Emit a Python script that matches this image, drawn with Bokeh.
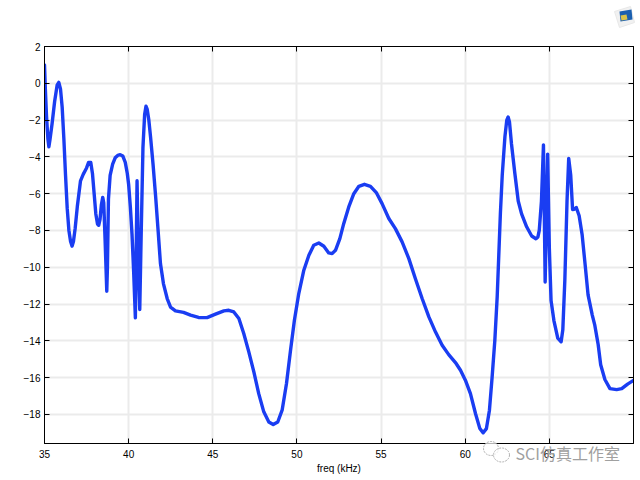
import numpy as np
from bokeh.plotting import figure
from bokeh.embed import file_html
from bokeh.resources import INLINE
from bokeh.core.properties import value
from bokeh.models import Range1d, FixedTicker, LinearAxis, CustomJSTickFormatter

freq = [35.0,35.05,35.12,35.2,35.26,35.32,35.45,35.6,35.75,35.85,35.95,36.05,36.15,36.25,36.35,36.45,36.55,36.64,36.72,36.82,36.95,37.14,37.3,37.5,37.62,37.75,37.85,37.95,38.05,38.15,38.22,38.3,38.38,38.46,38.52,38.6,38.7,38.74,38.8,38.9,39.05,39.2,39.35,39.5,39.65,39.8,39.92,40.0,40.1,40.2,40.3,40.4,40.5,40.6,40.66,40.75,40.85,40.95,41.03,41.1,41.2,41.3,41.45,41.6,41.75,41.89,42.07,42.29,42.49,42.78,43.26,43.68,44.15,44.66,45.16,45.66,45.95,46.25,46.55,46.84,47.14,47.44,47.73,48.03,48.33,48.59,48.86,49.12,49.38,49.62,49.85,50.11,50.41,50.71,51.0,51.3,51.6,51.89,52.09,52.29,52.55,52.78,53.08,53.38,53.68,54.01,54.37,54.73,55.06,55.46,55.85,56.25,56.65,57.04,57.44,57.84,58.23,58.63,59.02,59.42,59.72,60.01,60.31,60.61,60.87,61.06,61.26,61.44,61.6,61.76,61.9,62.09,62.2,62.36,62.47,62.55,62.63,62.75,62.95,63.15,63.35,63.65,63.95,64.2,64.32,64.4,64.53,64.65,64.75,64.9,65.0,65.1,65.27,65.5,65.7,65.8,65.92,66.05,66.15,66.27,66.38,66.48,66.6,66.77,66.95,67.13,67.3,67.55,67.7,67.9,68.05,68.3,68.6,69.0,69.3,69.65,70.0]
s11 = [1.0,-0.3,-1.8,-3.0,-3.45,-3.1,-2.2,-1.0,-0.1,0.05,-0.3,-1.3,-3.0,-5.0,-6.8,-8.0,-8.6,-8.85,-8.6,-7.9,-6.7,-5.3,-4.95,-4.6,-4.3,-4.3,-4.9,-6.0,-7.1,-7.65,-7.72,-7.4,-6.6,-6.2,-6.5,-8.5,-11.3,-10.0,-6.3,-5.0,-4.4,-4.05,-3.92,-3.88,-3.95,-4.3,-4.9,-5.5,-6.7,-8.2,-10.3,-12.75,-5.3,-10.5,-12.3,-8.0,-3.5,-1.7,-1.25,-1.4,-2.0,-2.9,-4.4,-6.1,-8.0,-9.8,-10.9,-11.7,-12.17,-12.37,-12.45,-12.6,-12.73,-12.74,-12.55,-12.37,-12.34,-12.43,-12.79,-13.6,-14.6,-15.69,-16.87,-17.86,-18.41,-18.55,-18.41,-17.77,-16.32,-14.51,-12.88,-11.43,-10.16,-9.35,-8.8,-8.68,-8.86,-9.22,-9.26,-9.08,-8.44,-7.63,-6.72,-6.0,-5.6,-5.49,-5.6,-5.96,-6.54,-7.35,-7.9,-8.62,-9.53,-10.62,-11.7,-12.7,-13.51,-14.24,-14.75,-15.18,-15.6,-16.14,-16.87,-17.95,-18.77,-19.0,-18.77,-17.77,-15.96,-13.97,-11.61,-7.08,-5.0,-2.9,-2.0,-1.83,-2.1,-3.3,-4.9,-6.4,-7.1,-7.8,-8.3,-8.45,-8.35,-8.0,-6.4,-3.35,-10.8,-3.85,-9.0,-11.8,-12.9,-13.85,-14.05,-13.4,-10.7,-6.4,-4.08,-5.0,-6.86,-6.85,-6.75,-7.2,-8.25,-9.9,-11.5,-12.6,-13.15,-14.2,-15.3,-16.1,-16.6,-16.65,-16.6,-16.35,-16.15]

x_ticks = [35, 40, 45, 50, 55, 60, 65]
y_ticks = [-18, -16, -14, -12, -10, -8, -6, -4, -2, 0, 2]
x_label = "freq (kHz)"
watermark = "SCI仿真工作室"

FONT = "Liberation Sans"
FL, FR, FT, FB = 44, 633, 46, 443  # frame edges in picture pixels
XMIN, XMAX, YMIN, YMAX = 35, 70, -19.58, 2
p = figure(width=638, height=476, output_backend="svg", toolbar_location=None,
           x_range=Range1d(XMIN, XMAX), y_range=Range1d(YMIN, YMAX),
           min_border_left=FL, min_border_right=638-FR, min_border_top=FT, min_border_bottom=476-FB)
p.background_fill_color = "white"
p.outline_line_color = "black"
p.outline_line_width = 1

for ax in (p.xaxis[0], p.yaxis[0]):
    ax.axis_line_color = "black"
    ax.axis_line_width = 1
    ax.major_tick_in = 5
    ax.major_tick_out = 0
    ax.minor_tick_in = 0
    ax.minor_tick_out = 0
    ax.major_tick_line_color = "black"
    ax.major_label_text_font = FONT
    ax.major_label_text_font_size = "10px"
    ax.major_label_text_color = "black"

p.xaxis[0].ticker = FixedTicker(ticks=x_ticks)
p.yaxis[0].ticker = FixedTicker(ticks=y_ticks)
p.xaxis[0].major_label_standoff = 6
p.yaxis[0].major_label_standoff = 4
p.xaxis[0].axis_label = x_label
p.xaxis[0].axis_label_text_font = FONT
p.xaxis[0].axis_label_text_font_size = "10px"
p.xaxis[0].axis_label_text_font_style = "normal"
p.xaxis[0].axis_label_text_color = "black"
p.xaxis[0].axis_label_standoff = 2

blank = CustomJSTickFormatter(code="return ''")
top = LinearAxis(ticker=FixedTicker(ticks=x_ticks), formatter=blank,
                 major_tick_in=5, major_tick_out=0, minor_tick_in=0, minor_tick_out=0,
                 axis_line_width=1, major_label_standoff=0)
right = LinearAxis(ticker=FixedTicker(ticks=y_ticks), formatter=blank,
                   major_tick_in=5, major_tick_out=0, minor_tick_in=0, minor_tick_out=0,
                   axis_line_width=1, major_label_standoff=0)
p.add_layout(top, "above")
p.add_layout(right, "right")

p.xgrid[0].ticker = FixedTicker(ticks=x_ticks)
p.ygrid[0].ticker = FixedTicker(ticks=y_ticks)
for g in (p.xgrid[0], p.ygrid[0]):
    g.grid_line_color = "#ebebeb"
    g.grid_line_width = 2

p.line(freq, s11, line_color="#1a3df2", line_width=3.4, line_join="round", line_cap="round")

def dx(v):
    return [XMIN + (a - FL) * (XMAX - XMIN) / (FR - FL) for a in v]

def dy(v):
    return [YMIN + (FB - a) * (YMAX - YMIN) / (FB - FT) for a in v]

def ellipse(cx, cy, rx, ry):
    t = np.linspace(0, 2 * np.pi, 40)
    return dx(cx + rx * np.cos(t)), dy(cy + ry * np.sin(t))

# decoration outside the frame: overlay level is not clipped
p.patch(dx([614, 630, 634, 619]), dy([11, 6, 22, 27]), fill_color="#f1f1f1", line_color="#e8e8e8", level="overlay")
p.patch(dx([619, 631, 632, 620]), dy([11, 9, 19, 21]), fill_color="#1a5fb0", line_color=None, level="overlay")
p.patch(dx([620, 626, 627, 621]), dy([15, 14, 19, 20]), fill_color="#d9c24a", line_color=None, level="overlay")

for cx, cy, rx, ry in [(490.5, 448, 7.5, 7), (501, 454.5, 8, 7)]:
    xs, ys = ellipse(cx, cy, rx, ry)
    p.patch(xs, ys, fill_color="white", fill_alpha=0.7, line_color="#b0b0b0", line_width=1, line_dash="2 1", level="overlay")

p.text(dx([515]), dy([452]), text=[watermark], text_font=value("Noto Sans CJK SC"), text_font_size="16px",
       text_color="#a0a0a0", text_align="left", text_baseline="middle", level="overlay")

open("out.html", "w").write(file_html(p, INLINE))
